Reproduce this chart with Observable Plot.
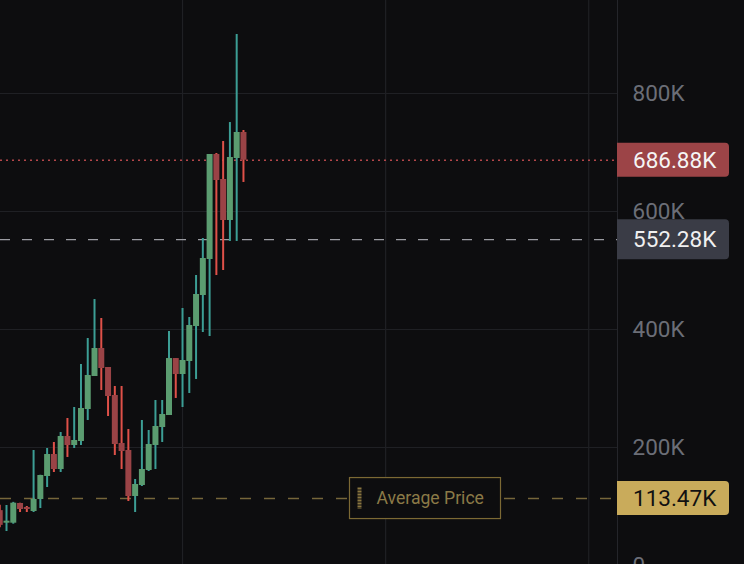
<!DOCTYPE html>
<html><head><meta charset="utf-8">
<script src="https://cdn.jsdelivr.net/npm/d3@7"></script>
<script src="https://cdn.jsdelivr.net/npm/@observablehq/plot@0.6"></script>
<style>
html,body{margin:0;padding:0;background:#0d0d0f;overflow:hidden;}
#chart svg{display:block;}
</style></head><body><div id="chart"></div>
<script>
// ---- data (values in thousands) ----
const opens  = [93,71.7,71.7,105.1,98.3,91.5,111.9,150.8,188.1,162.7,218.6,203.4,210.2,264.4,320.3,367.8,335.6,288.1,206.8,194.9,116.9,135.6,161.0,203.4,233.9,254.2,350.8,323.7,345.8,405.1,457.6,518.6,696.6,654.2,584.7,689.8,733.9];
const highs  = [102,101.7,107,105.5,100,194.9,153,198.3,208.5,225.4,249.2,267.8,340.7,384.7,450.8,418.6,335.6,303.4,303.4,230.5,145.8,245.8,228.8,279.7,279.7,396.6,350.8,435.6,420.3,491.5,554.2,696.6,698.3,718.6,750.8,900.0,737.3];
const lows   = [64,57.6,70,89.8,89.8,89.8,96.6,132.2,157.6,157.6,183.1,198.3,203.4,245.8,320.3,296.6,252.5,186.4,162.7,108.5,89.8,133.9,159.3,162.7,208.5,254.2,283.1,267.8,291.5,315.3,394.9,388.1,491.5,500.0,549.2,549.2,649.2];
const closes = [68,75.1,105.6,94.9,94.9,111.9,152.5,188.1,162.7,218.6,203.4,211.9,266.1,322.0,367.8,333.9,286.4,205.1,193.2,116.9,137.3,162.7,205.1,235.6,255.9,350.8,323.7,347.5,406.8,459.3,520.3,696.6,652.5,584.7,691.5,733.9,686.88];
const yTicks = [0, 200000, 400000, 600000, 800000];
const xGridIndex = [27, 57, 87];
const lastPrice = 686880;
const markerPrice = 552280;
const avgPrice = 113470;
const tagValues = [686880, 552280, 113470];
const tagLabels = ["686.88K", "552.28K", "113.47K"];
const avgLabel = "Average Price";

const candles = opens.map((o, i) => ({
  i, open: o * 1000, high: highs[i] * 1000, low: lows[i] * 1000, close: closes[i] * 1000,
  up: closes[i] >= o
}));

const BG = "#0d0d0f";
const FONT = "Roboto, 'Noto Sans', sans-serif";

function overlay(index, scales, values, dimensions) {
  const {width, height, marginRight} = dimensions;
  const x0 = width - marginRight;
  const g = d3.create("svg:g").attr("font-family", FONT).attr("text-anchor", "start");
  // axis separator
  g.append("line").attr("x1", x0 + 0.5).attr("x2", x0 + 0.5).attr("y1", 0).attr("y2", height)
    .attr("stroke", "#24252a").attr("stroke-width", 1);
  // average price annotation box
  const ya = scales.y(avgPrice);
  const bx = 349.5, bw = 151, bh = 41;
  g.append("rect").attr("x", bx).attr("y", ya - bh / 2).attr("width", bw).attr("height", bh)
    .attr("fill", BG).attr("stroke", "#7c6934").attr("stroke-width", 1.2);
  g.append("line").attr("x1", bx + 10).attr("x2", bx + 10).attr("y1", ya - 10.5).attr("y2", ya + 11)
    .attr("stroke", "#8a7640").attr("stroke-width", 4).attr("stroke-dasharray", "2,1");
  g.append("text").attr("x", bx + 27).attr("y", ya).attr("dy", "0.36em").attr("text-anchor", "start")
    .attr("fill", "#8b7a47").attr("font-size", 17.6).text(avgLabel);
  // price tags
  const styles = [
    {fill: "#9c4447", color: "#f5f5f5", h: 34},
    {fill: "#3a3c46", color: "#f0f0f0", h: 40},
    {fill: "#c9ab5b", color: "#111111", h: 34}
  ];
  tagValues.forEach((v, k) => {
    const y = scales.y(v), s = styles[k], w = 112, r = 4, top = y - s.h / 2;
    g.append("path")
      .attr("d", `M${x0},${top}H${x0 + w - r}Q${x0 + w},${top} ${x0 + w},${top + r}V${top + s.h - r}Q${x0 + w},${top + s.h} ${x0 + w - r},${top + s.h}H${x0}Z`)
      .attr("fill", s.fill);
    g.append("text").attr("x", x0 + 16).attr("y", y).attr("dy", "0.36em").attr("text-anchor", "start")
      .attr("fill", s.color).attr("font-size", 22.5).text(tagLabels[k]);
  });
  return g.node();
}

const chart = Plot.plot({
  width: 744, height: 564,
  marginLeft: 0, marginRight: 127, marginTop: 0, marginBottom: 0,
  style: {background: BG, fontFamily: FONT, overflow: "hidden"},
  x: {type: "linear", domain: [0.114, 91.25], axis: null},
  y: {domain: [0, 957627], range: [565, 0], axis: null},
  marks: [
    Plot.ruleY(yTicks.slice(1), {stroke: "#1f2024", strokeWidth: 1.2}),
    Plot.ruleX(xGridIndex, {stroke: "#1f2024", strokeWidth: 1.2}),
    Plot.ruleY([avgPrice], {stroke: "#76663a", strokeWidth: 1.4, strokeDasharray: "11,13"}),
    Plot.ruleY([markerPrice], {stroke: "#9b9ca2", strokeWidth: 1.4, strokeDasharray: "10,12"}),
    Plot.ruleY([lastPrice], {stroke: "#b4464a", strokeWidth: 1.6, strokeDasharray: "2,4"}),
    Plot.ruleX(candles, {x: "i", y1: "low", y2: "high", strokeWidth: 2, clip: true,
      stroke: d => d.up ? "#3c9e95" : "#df5149"}),
    Plot.ruleX(candles, {x: "i", y1: "open", y2: "close", strokeWidth: 6, clip: true,
      stroke: d => d.up ? "#5b9c70" : "#9a4346"}),
    Plot.axisY({ticks: yTicks, anchor: "right", tickSize: 0, tickPadding: 15, label: null,
      tickFormat: d => d === 0 ? "0" : d / 1000 + "K", fontSize: 22.5, fill: "#6b6e77"}),
    overlay
  ]
});
document.getElementById("chart").appendChild(chart);
</script></body></html>
